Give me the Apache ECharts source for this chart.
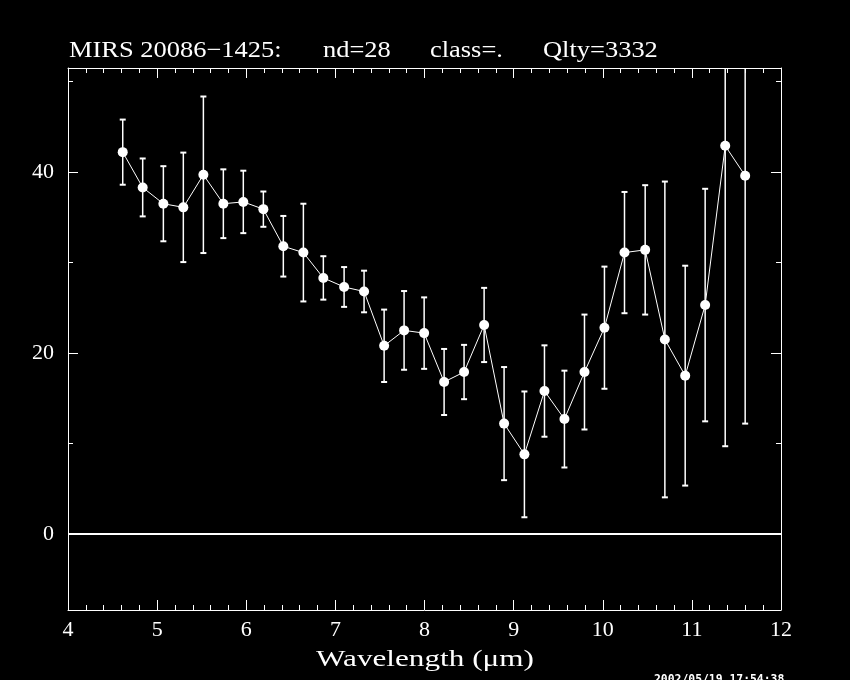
<!DOCTYPE html>
<html><head><meta charset="utf-8">
<script src="https://cdn.jsdelivr.net/npm/echarts@6/dist/echarts.min.js"></script>
<style>html,body{margin:0;padding:0;background:#000}#c{width:850px;height:680px}</style>
</head><body><div id="c"></div>
<script>
// ---- data ----
const wavelength = [4.614, 4.838, 5.070, 5.294, 5.519, 5.743, 5.967, 6.192, 6.416, 6.641,
  6.865, 7.098, 7.322, 7.547, 7.771, 7.996, 8.220, 8.444, 8.669, 8.893,
  9.121, 9.346, 9.570, 9.795, 10.019, 10.244, 10.476, 10.697, 10.925, 11.149,
  11.374, 11.598];
const flux = [42.2, 38.3, 36.5, 36.1, 39.7, 36.5, 36.7, 35.9, 31.8, 31.1,
  28.3, 27.3, 26.8, 20.8, 22.5, 22.2, 16.8, 17.9, 23.1, 12.2,
  8.8, 15.8, 12.7, 17.9, 22.8, 31.1, 31.4, 21.5, 17.5, 25.3,
  42.9, 39.6];
const fluxErr = [3.6, 3.2, 4.15, 6.05, 8.65, 3.8, 3.45, 1.95, 3.35, 5.4,
  2.4, 2.2, 2.3, 4.0, 4.35, 3.95, 3.65, 3.0, 4.1, 6.25,
  6.95, 5.05, 5.35, 6.35, 6.75, 6.7, 7.15, 17.45, 12.15, 12.85,
  33.2, 27.4];
const xTickLabels = [4, 5, 6, 7, 8, 9, 10, 11, 12];
const yTickLabels = [0, 20, 40];
const titleParts = ['MIRS 20086\u22121425:', 'nd=28', 'class=.', 'Qlty=3332'];
const xAxisTitle = 'Wavelength (\u03bcm)';
const timestamp = '2002/05/19 17:54:38';

const pointData = wavelength.map((w, i) => [w, flux[i]]);
const errData = wavelength.map((w, i) => [w, flux[i] - fluxErr[i], flux[i] + fluxErr[i]]);

const W = '#ffffff';
const serif = '"Liberation Serif", "DejaVu Serif", serif';
const lblStyle = { color: W, fontFamily: serif, fontSize: 22 };

function xAxisCfg(pos, showLabels) {
  return {
    type: 'value', position: pos, min: 4, max: 12, interval: 1,
    axisLine: { show: true, onZero: false, lineStyle: { color: W, width: 1 } },
    axisTick: { show: true, inside: true, length: 10, lineStyle: { color: W, width: 1 } },
    minorTick: { show: true, splitNumber: 5, length: 5, lineStyle: { color: W, width: 1 } },
    splitLine: { show: false },
    axisLabel: showLabels ? Object.assign({ margin: 9,
      formatter: v => xTickLabels.includes(v) ? String(v) : '' }, lblStyle) : { show: false }
  };
}
function yAxisCfg(pos, showLabels) {
  return {
    type: 'value', position: pos, min: -8.4, max: 51.5, splitNumber: 3,
    axisLine: { show: true, onZero: false, lineStyle: { color: W, width: 1 } },
    axisTick: { show: true, inside: true, length: 10, lineStyle: { color: W, width: 1 } },
    minorTick: { show: true, splitNumber: 2, length: 5, lineStyle: { color: W, width: 1 } },
    splitLine: { show: false },
    axisLabel: showLabels ? Object.assign({ margin: 14, showMinLabel: false, showMaxLabel: false,
      formatter: v => yTickLabels.includes(v) ? String(v) : '' }, lblStyle) : { show: false }
  };
}

const titleX = [69, 323, 430, 543];
const chart = echarts.init(document.getElementById('c'), null, { renderer: 'canvas' });
chart.setOption({
  backgroundColor: '#000',
  animation: false,
  grid: { left: 68, right: 69, top: 68, bottom: 70 },
  xAxis: [xAxisCfg('bottom', true), xAxisCfg('top', false)],
  yAxis: [yAxisCfg('left', true), yAxisCfg('right', false)],
  graphic: [
    ...titleParts.map((t, i) => ({
      type: 'text', x: titleX[i], y: 51, scaleX: 1.15, scaleY: 1,
      style: { text: t, fill: W, font: '23px ' + serif, textAlign: 'left', textVerticalAlign: 'middle' }
    })),
    { type: 'text', x: 425, y: 660, scaleX: 1.3, scaleY: 1,
      style: { text: xAxisTitle, fill: W, font: '24px ' + serif, textAlign: 'center', textVerticalAlign: 'middle' } },
    { type: 'text', x: 654, y: 675,
      style: { text: timestamp, fill: W, font: 'bold 11.4px "DejaVu Sans Mono", monospace', textAlign: 'left', textVerticalAlign: 'top' } }
  ],
  series: [
    {
      type: 'custom', xAxisIndex: 0, yAxisIndex: 0, clip: true, z: 2,
      data: errData,
      renderItem: function (params, api) {
        const x = api.value(0), lo = api.value(1), hi = api.value(2);
        const t = api.coord([x, hi]), b = api.coord([x, lo]);
        const c = 3;
        return { type: 'group', children: [
          { type: 'line', shape: { x1: t[0], y1: t[1], x2: b[0], y2: b[1] }, style: { stroke: W, lineWidth: 1.5 } },
          { type: 'line', shape: { x1: t[0] - c, y1: t[1], x2: t[0] + c, y2: t[1] }, style: { stroke: W, lineWidth: 2 } },
          { type: 'line', shape: { x1: b[0] - c, y1: b[1], x2: b[0] + c, y2: b[1] }, style: { stroke: W, lineWidth: 2 } }
        ] };
      }
    },
    {
      type: 'line', xAxisIndex: 0, yAxisIndex: 0, z: 3,
      data: pointData,
      symbol: 'circle', symbolSize: 10, showSymbol: true,
      itemStyle: { color: W, borderWidth: 0 },
      lineStyle: { color: W, width: 1 },
      markLine: {
        silent: true, symbol: 'none', label: { show: false },
        lineStyle: { color: W, width: 2, type: 'solid' },
        data: [{ yAxis: 0 }]
      }
    }
  ]
});
</script></body></html>
